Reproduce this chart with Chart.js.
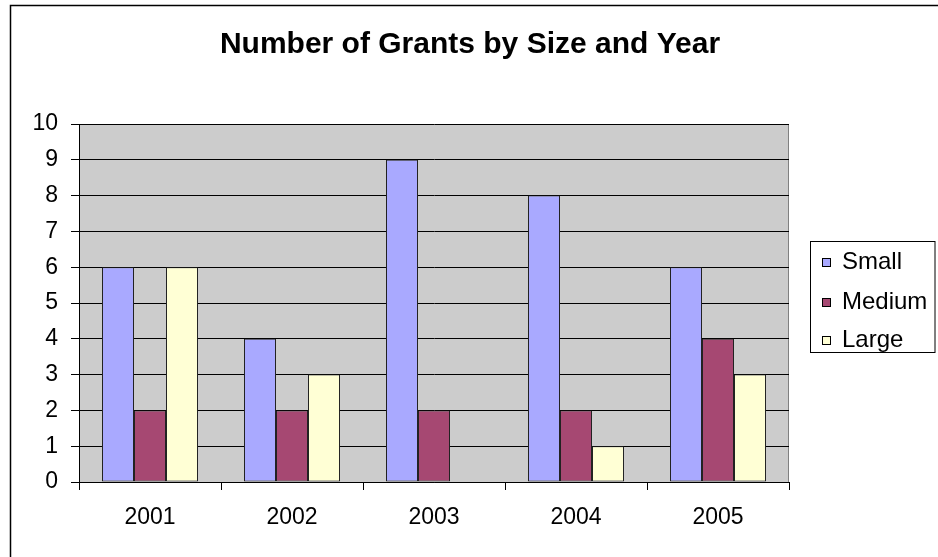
<!DOCTYPE html>
<html>
<head>
<meta charset="utf-8">
<script src="https://cdn.jsdelivr.net/npm/chart.js@4/dist/chart.umd.min.js"></script>
<style>
html,body{margin:0;padding:0;background:#fff;}
#wrap{width:938px;height:557px;position:relative;}
</style>
</head>
<body>
<div id="wrap"><canvas id="c" width="938" height="557"></canvas></div>
<script>
const chartTitle = "Number of Grants by Size and Year";
const years = ["2001", "2002", "2003", "2004", "2005"];
const smallGrants = [6, 4, 9, 8, 6];
const mediumGrants = [2, 2, 2, 2, 4];
const largeGrants = [6, 3, 0, 1, 3];
const seriesNames = ["Small", "Medium", "Large"];
const seriesColors = ["#A9A9FF", "#A64872", "#FFFFD5"];

const FONT = "'Liberation Sans', Arial, sans-serif";

const bgPlugin = {
  id: 'bg',
  beforeDraw(chart) {
    const {ctx, chartArea: a} = chart;
    ctx.save();
    ctx.fillStyle = '#fff';
    ctx.fillRect(0, 0, chart.width, chart.height);
    ctx.fillStyle = '#CCCCCC';
    ctx.fillRect(a.left, a.top, a.right - a.left, a.bottom - a.top);
    ctx.strokeStyle = '#808080';
    ctx.lineWidth = 1;
    ctx.beginPath();
    ctx.moveTo(Math.round(a.right) - 0.5, a.top);
    ctx.lineTo(Math.round(a.right) - 0.5, a.bottom);
    ctx.stroke();
    ctx.restore();
  },
  afterDraw(chart) {
    const ctx = chart.ctx;
    ctx.save();
    // outer border (left/top visible)
    ctx.strokeStyle = '#000';
    ctx.lineWidth = 1.5;
    ctx.beginPath();
    ctx.moveTo(10.5, chart.height + 5);
    ctx.lineTo(10.5, 5.5);
    ctx.lineTo(chart.width + 5, 5.5);
    ctx.stroke();
    // title
    ctx.fillStyle = '#000';
    ctx.font = "bold 30px " + FONT;
    ctx.textAlign = 'center';
    ctx.textBaseline = 'alphabetic';
    ctx.fillText(chartTitle, 470, 53);
    // legend
    const lx = 810.5, ly = 241.5, lw = 124.5, lh = 111;
    ctx.lineWidth = 1;
    ctx.strokeStyle = '#000';
    ctx.strokeRect(lx, ly, lw, lh);
    ctx.font = "24px " + FONT;
    ctx.textAlign = 'left';
    ctx.textBaseline = 'middle';
    const ys = [262, 302, 340];
    chart.data.datasets.forEach((ds, i) => {
      const y = ys[i];
      ctx.fillStyle = ds.backgroundColor;
      ctx.fillRect(822, y - 4, 9, 9);
      ctx.strokeRect(822.5, y - 3.5, 8, 8);
      ctx.fillStyle = '#000';
      ctx.fillText(ds.label, 842, y);
    });
    ctx.restore();
  }
};

new Chart(document.getElementById('c'), {
  type: 'bar',
  data: {
    labels: years,
    datasets: [
      {label: seriesNames[0], data: smallGrants, backgroundColor: seriesColors[0]},
      {label: seriesNames[1], data: mediumGrants, backgroundColor: seriesColors[1]},
      {label: seriesNames[2], data: largeGrants, backgroundColor: seriesColors[2]}
    ].map(d => Object.assign(d, {borderColor: '#222', borderWidth: 1, borderSkipped: false, categoryPercentage: 0.676, barPercentage: 1}))
  },
  options: {
    responsive: false,
    animation: false,
    devicePixelRatio: 1,
    layout: {padding: {left: 0, top: 124, right: 149, bottom: 0}},
    plugins: {legend: {display: false}, title: {display: false}, tooltip: {enabled: false}},
    scales: {
      x: {
        grid: {display: true, drawOnChartArea: false, offset: true, tickLength: 8, color: '#000', lineWidth: 1},
        border: {display: true, color: '#000', width: 1},
        ticks: {color: '#000', font: {family: FONT, size: 23}, padding: 14, maxRotation: 0},
        afterFit(s) { s.height = 75; }
      },
      y: {
        min: 0, max: 10,
        grid: {display: true, color: '#000', lineWidth: 1, tickLength: 8, drawOnChartArea: true},
        border: {display: true, color: '#000', width: 1},
        ticks: {stepSize: 1, color: '#000', font: {family: FONT, size: 23}, padding: 13},
        afterFit(s) { s.width = 79; }
      }
    }
  },
  plugins: [bgPlugin]
});
</script>
</body>
</html>
